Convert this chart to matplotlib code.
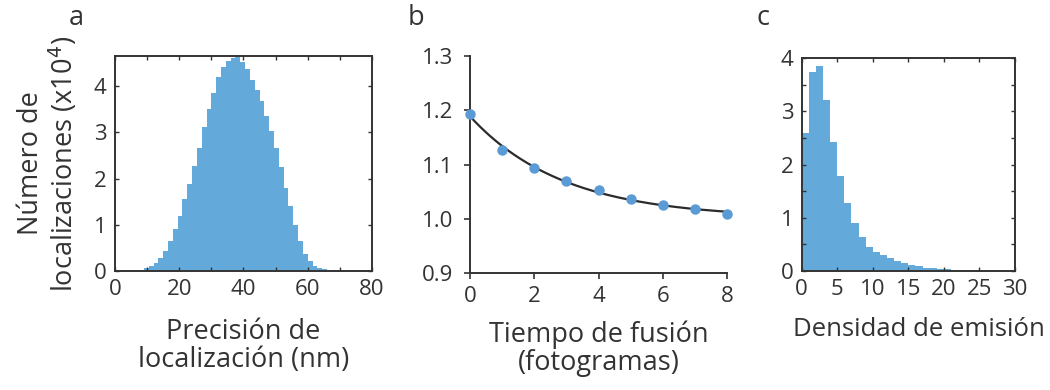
import numpy as np
import matplotlib.pyplot as plt
from matplotlib.ticker import MultipleLocator

plt.rcParams['font.family'] = ['Open Sans', 'DejaVu Sans']
plt.rcParams['text.color'] = '#333333'
plt.rcParams['axes.labelcolor'] = '#333333'
plt.rcParams['xtick.color'] = '#333333'
plt.rcParams['ytick.color'] = '#333333'

# --- datos ---
# a: precisión de localización (nm), bins de 1.5 nm, cuentas en x10^4
prec_edges_start = 7.5
prec_bin = 1.5
prec_counts = [0.02, 0.06, 0.11, 0.18, 0.29, 0.43, 0.65, 0.90, 1.19, 1.55,
               1.89, 2.27, 2.65, 3.11, 3.50, 3.86, 4.19, 4.41, 4.54, 4.60,
               4.62, 4.52, 4.36, 4.14, 3.91, 3.68, 3.35, 3.03, 2.67, 2.25,
               1.80, 1.41, 0.99, 0.65, 0.37, 0.22, 0.11, 0.06, 0.04, 0.02,
               0.01]

# b: tiempo de fusión
frames = [0, 1, 2, 3, 4, 5, 6, 7, 8]
fusion = [1.193, 1.127, 1.093, 1.070, 1.053, 1.037, 1.026, 1.018, 1.008]

# c: densidad de emisión, bins de 1
dens_counts = [2.60, 3.74, 3.86, 3.22, 2.42, 1.79, 1.28, 0.89, 0.64, 0.45,
               0.36, 0.30, 0.23, 0.19, 0.14, 0.11, 0.08, 0.06, 0.045, 0.035,
               0.025, 0.02, 0.017, 0.014, 0.012, 0.01, 0.008]

blue = '#63A9DA'
dark = '#333333'
lab_fs = 19.5
tick_fs = 16

fig = plt.figure(figsize=(10.5, 3.9), dpi=100)

# ---------- a ----------
ax1 = fig.add_axes([0.1095, 0.3051, 0.2448, 0.5513])
edges_a = prec_edges_start + prec_bin * np.arange(len(prec_counts))
ax1.bar(edges_a, prec_counts, width=prec_bin, align='edge', color=blue, linewidth=0)
ax1.set_xlim(0, 80)
ax1.set_ylim(0, 4.65)
ax1.xaxis.set_major_locator(MultipleLocator(20))
ax1.xaxis.set_minor_locator(MultipleLocator(10))
ax1.yaxis.set_major_locator(MultipleLocator(1))
ax1.tick_params(which='both', direction='in', top=True, right=True, length=3, width=1,
                labelsize=tick_fs, pad=6)
for s in ax1.spines.values():
    s.set_linewidth(1.4)
    s.set_color(dark)
ax1.set_xlabel('Precisión de\nlocalización (nm)', fontsize=lab_fs, linespacing=1.0, labelpad=13)
ax1.set_ylabel('Número de\nlocalizaciones (x10$^4$)', fontsize=lab_fs, linespacing=1.1, labelpad=10)
fig.text(0.073, 0.955, 'a', fontsize=lab_fs, ha='center', va='center')

# ---------- b ----------
ax2 = fig.add_axes([0.4476, 0.30, 0.2448, 0.5564])
x = np.array(frames, dtype=float)
y = np.array(fusion)
# ajuste exponencial y = a + b*exp(-x/tau)
best = None
for tau in np.linspace(0.5, 10, 400):
    A = np.column_stack([np.ones_like(x), np.exp(-x / tau)])
    coef, res, _, _ = np.linalg.lstsq(A, y, rcond=None)
    err = np.sum((A @ coef - y) ** 2)
    if best is None or err < best[0]:
        best = (err, tau, coef)
_, tau, coef = best
xf = np.linspace(0, 8, 200)
yf = coef[0] + coef[1] * np.exp(-xf / tau)
ax2.plot(xf, yf, color='#2b2b2b', lw=1.6, zorder=2)
ax2.plot(x, y, 'o', color='#5B9BD5', markersize=6.5, zorder=3, clip_on=False)
ax2.set_xlim(0, 8)
ax2.set_ylim(0.9, 1.3)
ax2.xaxis.set_major_locator(MultipleLocator(2))
ax2.yaxis.set_major_locator(MultipleLocator(0.1))
ax2.yaxis.set_major_formatter(plt.FormatStrFormatter('%.1f'))
ax2.spines['top'].set_visible(False)
ax2.spines['right'].set_visible(False)
for s in ['left', 'bottom']:
    ax2.spines[s].set_linewidth(1.4)
    ax2.spines[s].set_color(dark)
ax2.tick_params(axis='x', direction='out', length=4, width=1.2, labelsize=tick_fs, pad=5)
ax2.tick_params(axis='y', direction='out', length=4, width=1.2, labelsize=tick_fs, pad=8)
ax2.set_xlabel('Tiempo de fusión\n(fotogramas)', fontsize=lab_fs, linespacing=1.0, labelpad=10)
fig.text(0.396, 0.955, 'b', fontsize=lab_fs, ha='center', va='center')

# ---------- c ----------
ax3 = fig.add_axes([0.7635, 0.3059, 0.2031, 0.5446])
edges_c = np.arange(len(dens_counts))
ax3.bar(edges_c, dens_counts, width=1.0, align='edge', color=blue, linewidth=0)
ax3.set_xlim(0, 30)
ax3.set_ylim(0, 4)
ax3.xaxis.set_major_locator(MultipleLocator(5))
ax3.yaxis.set_major_locator(MultipleLocator(1))
ax3.yaxis.set_minor_locator(MultipleLocator(0.5))
ax3.tick_params(which='both', direction='in', top=True, right=True, length=3, width=1,
                labelsize=tick_fs, pad=6)
for s in ax3.spines.values():
    s.set_linewidth(1.4)
    s.set_color(dark)
ax3.set_xlabel('Densidad de emisión', fontsize=18.5)
ax3.xaxis.set_label_coords(0.55, -0.22)
ax3.xaxis.label.set_va('top')
fig.text(0.727, 0.955, 'c', fontsize=lab_fs, ha='center', va='center')

fig.savefig('out.png', dpi=100)
